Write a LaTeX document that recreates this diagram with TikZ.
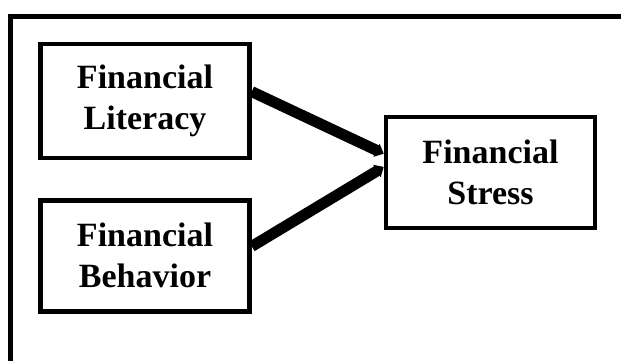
\documentclass[tikz,border=0pt]{standalone}
\usepackage{fontspec}
\setmainfont{Liberation Serif}
\usepackage{tikz}
\usetikzlibrary{arrows.meta, positioning}

\begin{document}
\begin{tikzpicture}[
  x=1pt, y=-1pt,
  font=\fontsize{34}{41}\selectfont\bfseries,
  var/.style={draw, line width=4.5pt, minimum width=209pt, minimum height=111pt,
              align=center, inner sep=4pt},
  link/.style={-{Triangle[length=8pt, width=14pt]}, line width=11pt},
  frame/.style={line width=5pt}
]
\useasboundingbox (0,0) rectangle (621,361);

% ---- Outer frame (open at right and bottom) ----
\draw[frame] (10.8,362) |- (622,16.5);

% ---- Variables ----
\node[var, minimum height=113.5pt] (lit) at (145,101) {Financial\\Literacy};
\node[var, below=38pt of lit] (beh) {Financial\\Behavior};
\node[var] (stress) at (490.5,172.5) {Financial\\Stress};

% ---- Paths ----
\draw[link] (lit.5) -- (stress.170);
\draw[link] (beh.5) -- (stress.177);

\end{tikzpicture}
\end{document}
